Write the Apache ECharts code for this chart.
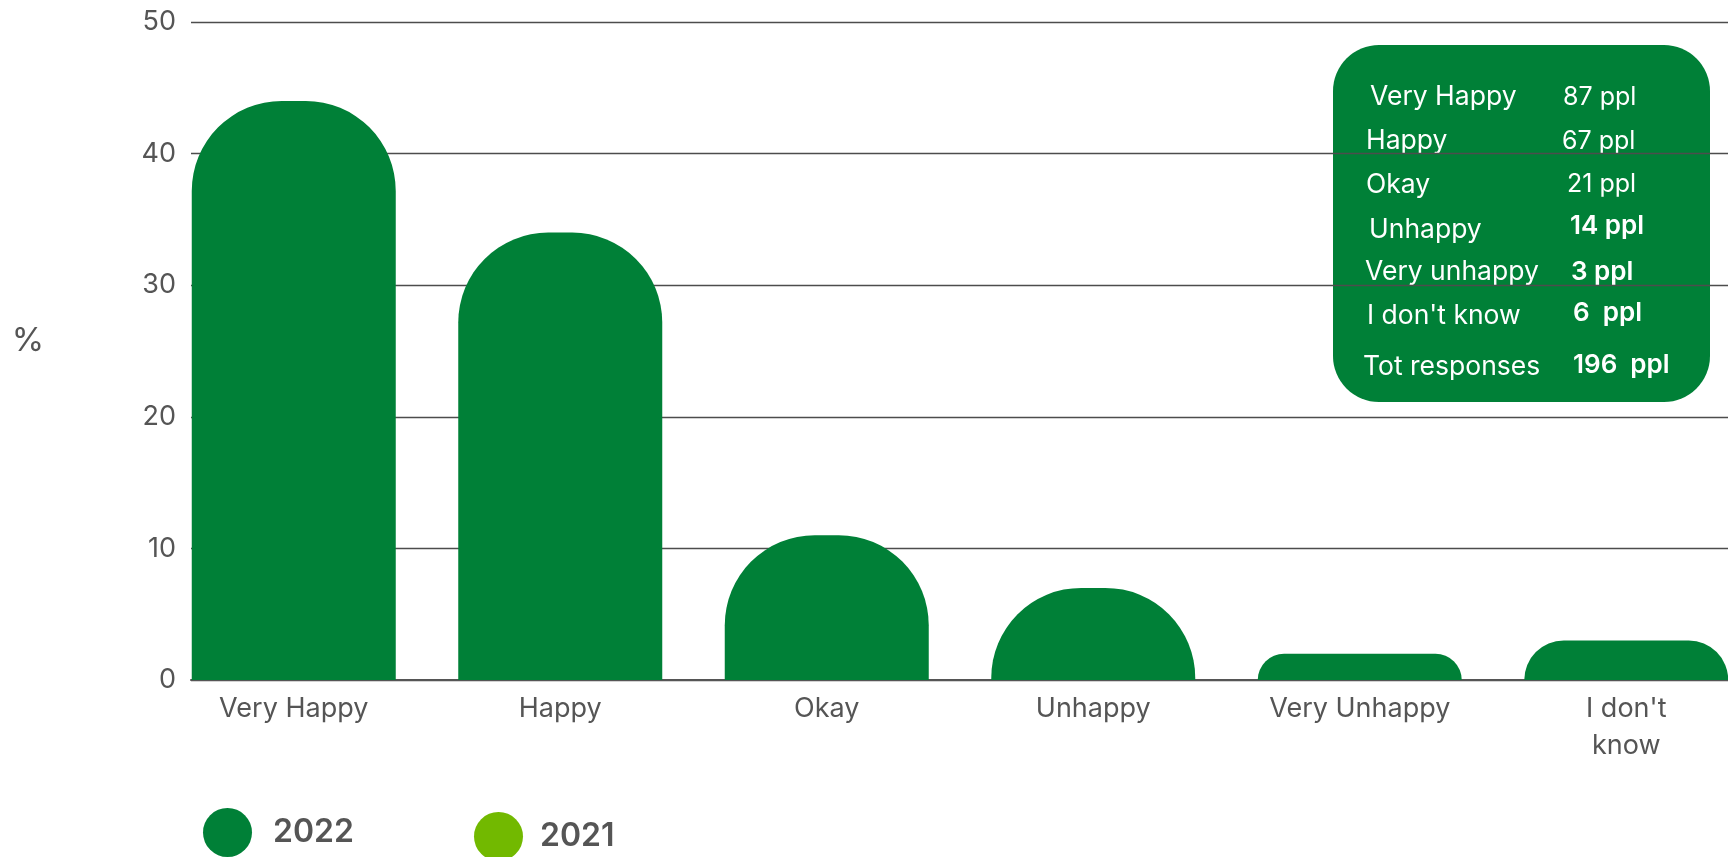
<!DOCTYPE html>
<html>
<head>
<meta charset="utf-8">
<title>Happiness survey</title>
<script src="https://cdn.jsdelivr.net/npm/echarts@6/dist/echarts.min.js"></script>
<style>
  html, body { margin: 0; padding: 0; background: #ffffff; }
  #chart { width: 1728px; height: 857px; }
</style>
</head>
<body>
<div id="chart"></div>
<script>
// Survey answers (share of responses, %)
const categories = ['Very Happy', 'Happy', 'Okay', 'Unhappy', 'Very Unhappy', "I don't\nknow"];
const values2022 = [44, 34, 11, 7, 2, 3];
const values2021 = [];
const seriesNames = ['2022', '2021'];
const yTicks = { min: 0, max: 50, interval: 10 };

// Summary panel: people per answer
const boxLabels = ['Very Happy', 'Happy', 'Okay', 'Unhappy', 'Very unhappy', "I don't know", 'Tot responses'];
const boxCounts = ['87 ppl', '67 ppl', '21 ppl', '14 ppl', '3 ppl', '6  ppl', '196  ppl'];

const GREEN = '#008037';
const LIGHT_GREEN = '#72b900';
const GREY = '#555555';
const FONT = 'Inter, "Noto Sans", sans-serif';

// panel text placement (label x, value x, label centre y, value centre y, bold value)
const boxLayout = [
  [1370, 1563, 97, 97, false],
  [1366, 1562, 141, 141, false],
  [1366, 1567, 185, 184, false],
  [1369, 1570, 230, 226, true],
  [1365, 1571, 272, 272, true],
  [1367, 1573, 316, 313, true],
  [1363, 1573, 367, 365, true]
];

const panelChildren = [{
  type: 'rect',
  shape: { x: 1333, y: 45, width: 377, height: 357, r: 46 },
  style: { fill: GREEN }
}];
boxLabels.forEach(function (label, i) {
  const l = boxLayout[i];
  panelChildren.push({
    type: 'text',
    style: { text: label, x: l[0], y: l[2], fill: '#ffffff', font: '400 26.5px ' + FONT, textVerticalAlign: 'middle', textAlign: 'left' }
  });
  panelChildren.push({
    type: 'text',
    style: { text: boxCounts[i], x: l[1], y: l[3], fill: '#ffffff', font: (l[4] ? '600 26px ' : '400 25px ') + FONT, textVerticalAlign: 'middle', textAlign: 'left' }
  });
});

const chart = echarts.init(document.getElementById('chart'), null, { renderer: 'canvas' });

const option = {
  backgroundColor: '#ffffff',
  animation: false,
  textStyle: { fontFamily: FONT },
  grid: [
    // gridlines and value labels
    { left: 191, right: 0, top: 22, bottom: 177, outerBoundsMode: 'none', containLabel: false },
    // bars and category labels
    { left: 160.5, right: -31.5, top: 22, bottom: 177, outerBoundsMode: 'none', containLabel: false }
  ],
  legend: [
    {
      data: [seriesNames[0]],
      left: 203, top: 808, padding: 0,
      icon: 'circle', itemWidth: 49, itemHeight: 49,
      textStyle: { fontSize: 32, fontWeight: 600, color: GREY, fontFamily: FONT, padding: [0, 0, 0, 16] }
    },
    {
      data: [seriesNames[1]],
      left: 474, top: 812, padding: 0,
      icon: 'circle', itemWidth: 49, itemHeight: 49,
      textStyle: { fontSize: 32, fontWeight: 600, color: GREY, fontFamily: FONT, padding: [0, 0, 0, 12] }
    }
  ],
  xAxis: [
    {
      gridIndex: 0, type: 'category', data: categories,
      axisLine: { show: true, lineStyle: { color: GREY, width: 2 } },
      axisTick: { show: false }, axisLabel: { show: false }, splitLine: { show: false }
    },
    {
      gridIndex: 1, type: 'category', data: categories,
      axisLine: { show: false }, axisTick: { show: false },
      axisLabel: { color: GREY, fontSize: 27, fontFamily: FONT, lineHeight: 37, margin: 10, interval: 0 }
    }
  ],
  yAxis: [
    {
      gridIndex: 0, type: 'value', min: yTicks.min, max: yTicks.max, interval: yTicks.interval,
      axisLine: { show: false }, axisTick: { show: false },
      axisLabel: { color: GREY, fontSize: 27, fontFamily: FONT, margin: 15 },
      splitLine: { show: true, lineStyle: { color: '#4d4d4d', width: 1.3 } }
    },
    {
      gridIndex: 1, type: 'value', min: yTicks.min, max: yTicks.max, interval: yTicks.interval,
      show: false, splitLine: { show: false }
    }
  ],
  series: [
    {
      name: seriesNames[0], type: 'bar', xAxisIndex: 1, yAxisIndex: 1, stack: 'year',
      data: values2022, barWidth: 204,
      itemStyle: { color: GREEN, borderRadius: [90, 90, 0, 0] }
    },
    {
      name: seriesNames[1], type: 'bar', xAxisIndex: 1, yAxisIndex: 1, stack: 'year',
      data: values2021, barWidth: 204,
      itemStyle: { color: LIGHT_GREEN, borderRadius: [90, 90, 0, 0] }
    }
  ],
  graphic: [
    {
      type: 'text', z: 10,
      style: { text: '%', x: 28, y: 341, fill: GREY, font: '400 33px ' + FONT, textAlign: 'center', textVerticalAlign: 'middle' }
    },
    { type: 'group', z: 100, children: panelChildren }
  ]
};

chart.setOption(option);
</script>
</body>
</html>
